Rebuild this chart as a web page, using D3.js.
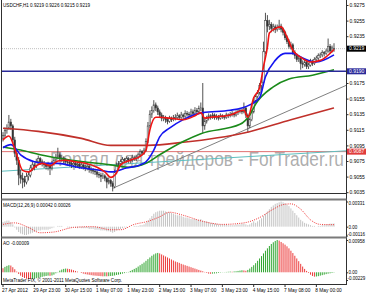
<!DOCTYPE html>
<html>
<head>
<meta charset="utf-8">
<script src="https://cdn.jsdelivr.net/npm/d3@7"></script>
<style>
  body { margin: 0; background: #fff; }
  svg text { font-family: "Liberation Sans", Arial, sans-serif; }
</style>
</head>
<body>
<div id="chart"></div>
<script>
// USDCHF H1 bars, prices in pips (x 0.0001)
const opens = [
  9104,9108,9114,9117,9125,9120,9102,9085,9076,9057, 9053,9051,9048,9055,9057,9066,9070,9068,9074,9078,
  9074,9072,9070,9068,9070,9066,9072,9076,9080,9083, 9079,9079,9076,9074,9073,9072,9070,9072,9070,9071,
  9068,9070,9067,9066,9068,9064,9063,9062,9061,9058, 9057,9055,9056,9053,9048,9050,9046,9042,9061,9070,
  9072,9074,9077,9076,9078,9076,9076,9079,9078,9080, 9083,9087,9085,9089,9100,9120,9135,9140,9147,9143,
  9138,9134,9130,9130,9128,9126,9130,9128,9130,9131, 9133,9131,9134,9132,9136,9135,9134,9138,9136,9140,
  9138,9142,9143,9120,9126,9130,9133,9132,9134,9131, 9132,9130,9133,9132,9131,9134,9133,9135,9136,9134,
  9137,9139,9140,9138,9143,9134,9120,9128,9138,9152, 9158,9162,9172,9176,9215,9255,9248,9250,9245,9247,
  9244,9246,9248,9244,9240,9233,9228,9222,9224,9214, 9210,9205,9207,9200,9199,9202,9196,9198,9203,9200,
  9205,9207,9210,9211,9214,9213,9216,9222,9216,9219
];
const highs = [
  9112,9118,9122,9134,9129,9122,9106,9090,9080,9064, 9060,9056,9060,9062,9070,9074,9073,9078,9082,9080,
  9077,9075,9073,9074,9072,9075,9079,9084,9092,9086, 9083,9081,9079,9077,9076,9075,9075,9074,9074,9073,
  9073,9072,9070,9071,9070,9067,9066,9065,9063,9061, 9060,9060,9058,9055,9054,9052,9049,9064,9073,9075,
  9077,9080,9079,9081,9080,9079,9083,9082,9083,9086, 9090,9089,9092,9104,9125,9140,9145,9153,9150,9146,
  9141,9137,9134,9133,9131,9133,9132,9134,9135,9137, 9135,9138,9136,9140,9139,9138,9142,9141,9144,9143,
  9146,9150,9175,9130,9133,9136,9135,9137,9136,9135, 9134,9136,9135,9134,9137,9136,9138,9139,9138,9140,
  9142,9143,9142,9150,9145,9136,9131,9141,9155,9161, 9166,9175,9181,9228,9265,9262,9256,9253,9251,9250,
  9250,9256,9251,9246,9242,9236,9231,9228,9226,9217, 9213,9210,9209,9204,9205,9204,9201,9206,9205,9208,
  9210,9213,9214,9217,9216,9219,9232,9225,9223,9226
];
const lows = [
  9100,9105,9110,9115,9115,9098,9080,9070,9044,9046, 9040,9042,9045,9050,9054,9062,9063,9066,9071,9070,
  9068,9066,9064,9063,9057,9063,9069,9073,9077,9075, 9074,9072,9070,9069,9068,9066,9067,9066,9067,9065,
  9065,9064,9062,9063,9060,9059,9058,9057,9054,9053, 9048,9052,9049,9040,9045,9042,9036,9040,9058,9066,
  9068,9071,9072,9073,9072,9072,9074,9075,9075,9077, 9080,9082,9083,9087,9098,9117,9130,9137,9139,9134,
  9130,9126,9126,9124,9122,9124,9125,9126,9127,9129, 9128,9129,9129,9130,9132,9131,9132,9133,9134,9135,
  9136,9139,9111,9115,9123,9127,9128,9129,9128,9128, 9127,9128,9129,9128,9129,9130,9131,9132,9131,9132,
  9134,9136,9135,9136,9130,9111,9117,9126,9136,9149, 9155,9160,9166,9174,9212,9240,9243,9240,9241,9239,
  9241,9243,9240,9236,9230,9225,9219,9218,9211,9206, 9202,9202,9192,9194,9196,9193,9193,9196,9197,9198,
  9202,9204,9207,9208,9209,9211,9214,9213,9214,9215
];
const closes = [
  9108,9114,9117,9125,9120,9102,9085,9076,9057,9053, 9051,9048,9055,9057,9066,9070,9068,9074,9078,9074,
  9072,9070,9068,9070,9066,9072,9076,9080,9083,9079, 9079,9076,9074,9073,9072,9070,9072,9070,9071,9068,
  9070,9067,9066,9068,9064,9063,9062,9061,9058,9057, 9055,9056,9053,9048,9050,9046,9042,9061,9070,9072,
  9074,9077,9076,9078,9076,9076,9079,9078,9080,9083, 9087,9085,9089,9100,9120,9135,9140,9147,9143,9138,
  9134,9130,9130,9128,9126,9130,9128,9130,9131,9133, 9131,9134,9132,9136,9135,9134,9138,9136,9140,9138,
  9142,9143,9120,9126,9130,9133,9132,9134,9131,9132, 9130,9133,9132,9131,9134,9133,9135,9136,9134,9137,
  9139,9140,9138,9143,9134,9120,9128,9138,9152,9158, 9162,9172,9176,9215,9255,9248,9250,9245,9247,9244,
  9246,9248,9244,9240,9233,9228,9222,9224,9214,9210, 9205,9207,9200,9199,9202,9196,9198,9203,9200,9205,
  9207,9210,9211,9214,9213,9216,9222,9216,9220,9219
];

const symbol = 'USDCHF,H1';
const timeLabels = ['27 Apr 2012', '29 Apr 23:00', '30 Apr 15:00', '1 May 07:00', '1 May 23:00', '2 May 15:00',
  '3 May 07:00', '3 May 23:00', '4 May 15:00', '7 May 08:00', '8 May 00:00'];
const timeLabelBars = [0, 16, 32, 48, 64, 80, 96, 112, 128, 144, 160];
const priceTicks = [9275, 9255, 9235, 9175, 9155, 9135, 9115, 9095, 9075, 9055, 9035];

// moving averages as [bar, pips]
const maFast = [[0,9102],[3,9107],[7,9083],[10,9063],[13,9061],[17,9069],[20,9072],[24,9069],[28,9075],
  [32,9076],[37,9074],[42,9072],[48,9067],[52,9061],[55,9054],[58,9060],[60,9070],[65,9076],[70,9081],
  [73,9089],[75,9115],[78,9131],[80,9131],[85,9130],[92,9128],[98,9133],[101,9137],[103,9130],[106,9131],
  [116,9134],[123,9140],[125,9131],[128,9156],[131,9169],[133,9196],[135,9221],[136,9239],[140,9246],
  [142,9247],[145,9234],[148,9217],[152,9208],[157,9202],[162,9204],[169,9218]];
const maMid = [[0,9092],[4,9096],[9,9083],[16,9074],[22,9072],[28,9072],[38,9067],[50,9063],[55,9061],
  [63,9066],[70,9070],[73,9074],[77,9089],[80,9106],[85,9117],[92,9128],[102,9137],[116,9140],[126,9147],
  [131,9156],[134,9183],[139,9204],[144,9213],[148,9213],[153,9207],[160,9202],[169,9211]];
const maSlow = [[0,9093],[9,9089],[19,9083],[35,9076],[55,9070],[64,9067],[73,9072],[80,9083],[92,9100],
  [101,9110],[121,9122],[126,9134],[129,9148],[138,9170],[146,9180],[158,9185],[169,9192]];
const maLong = [[0,9117],[18,9113],[40,9104],[55,9095],[74,9095],[92,9099],[123,9111],[147,9128],[169,9143]];

const levelBlue = 9190;
const levelRed = 9087;
const trendGray = [[56, 9040], [168, 9164]];
const trendCyan = [[0, 9062], [168, 9087]];

// MACD(12,26,9) in units of 0.0001
const macdMain = [
  6,7,8,8,6,3,-1,-4,-7,-9, -10,-11,-11,-10,-9,-8,-7,-6,-5,-5,
  -4,-4,-4,-4,-3,-2,-1,0,1,1, 1,0,0,-1,-1,-1,-1,-1,-2,-1,
  -2,-2,-2,-2,-3,-3,-3,-4,-4,-4, -5,-5,-5,-6,-6,-7,-8,-7,-5,-4,
  -3,-2,-1,-1,0,0,0,1,1,1, 2,2,3,5,8,11,14,17,19,20,
  21,21,21,20,19,19,18,17,16,15, 15,14,13,12,12,11,10,10,10,9,
  9,10,8,7,7,6,5,5,4,4, 3,3,3,3,3,2,2,2,2,3,
  3,3,4,4,3,2,3,5,7,5, 7,9,11,14,17,20,23,26,28,30,
  31,32,33,32,31,29,27,24,21,18, 15,12,9,7,5,4,3,2,1,1,
  0,1,1,2,2,3,3,4,4,4.2
];
const macdSignal = [[0,3],[6,5],[13,-1],[19,-8],[26,-7],[36,-1],[46,0],[55,-4],[60,-4],[67,3],[74,7],
  [80,13],[85,19],[92,15],[102,7],[112,3],[123,5],[131,12],[138,23],[143,29],[147,30],[152,23],[157,9],
  [162,3],[169,2.6]];
const macdTicks = [33.1, 0, -11.6];

// Awesome Oscillator in units of 0.00001
const aoValues = [
  120,160,190,210,200,150,90,20,-50,-100, -140,-170,-190,-200,-205,-200,-190,-175,-160,-150,
  -135,-120,-110,-100,-105,-95,-70,-30,10,50, 80,100,110,105,95,80,60,40,20,0,
  -20,-40,-55,-65,-75,-85,-95,-100,-105,-110, -115,-120,-118,-120,-115,-110,-105,-95,-80,-70,
  -55,-40,-25,-10,10,40,70,100,130,170, 210,250,290,340,390,440,490,530,560,575,
  560,530,500,470,440,410,380,350,320,300, 280,250,230,210,190,170,150,130,110,90,
  70,50,30,10,-20,-40,-45,-40,-35,-30, -20,-10,-5,5,10,15,20,15,25,30,
  40,50,60,55,45,70,110,160,210,270, 340,410,480,560,640,710,780,840,890,930,
  958,940,900,860,820,770,710,640,570,490, 410,330,250,170,100,40,-20,-70,-110,-130,
  -125,-115,-100,-85,-70,-55,-40,-30,-20,-9
];
const aoTicks = [958, 0, -229];

const W = 366, H = 293, left = 2, right = 346;
const svg = d3.select('#chart').append('svg')
  .attr('width', W).attr('height', H)
  .style('display', 'block').style('background', '#fff');

const x = d3.scaleLinear().domain([0, closes.length - 1]).range([3, 334]);
const y = d3.scaleLinear().domain([9035, 9275]).range([192.2, 5]);
const yMacd = d3.scaleLinear().domain([-11.6, 33.1]).range([235.5, 201.5]);
const yAo = d3.scaleLinear().domain([-229, 958]).range([280, 240]);

svg.append('clipPath').attr('id', 'mainClip')
  .append('rect').attr('x', left).attr('y', 0).attr('width', right - left).attr('height', 193);
const main = svg.append('g').attr('clip-path', 'url(#mainClip)');

// watermark
main.append('text')
  .attr('x', 50).attr('y', 166)
  .attr('font-size', 20)
  .attr('textLength', 294).attr('lengthAdjust', 'spacingAndGlyphs')
  .attr('fill', '#a0a0a0').attr('fill-opacity', 0.85)
  .text('Портал для трейдеров - ForTrader.ru');

// horizontal levels
main.append('line').attr('x1', left).attr('x2', right).attr('y1', y(levelRed)).attr('y2', y(levelRed))
  .attr('stroke', '#e07070').attr('stroke-width', 1);
main.append('line').attr('x1', left).attr('x2', right).attr('y1', y(closes[closes.length - 1])).attr('y2', y(closes[closes.length - 1]))
  .attr('stroke', '#b0b0b0').attr('stroke-width', 0.8).attr('stroke-dasharray', '1,1');

// trend lines, extended in pixel space
function extend(p, toLeft) {
  const x1 = x(p[0][0]), y1 = y(p[0][1]), x2 = x(p[1][0]), y2 = y(p[1][1]);
  const k = (y2 - y1) / (x2 - x1);
  const xa = toLeft ? left : x1;
  return [[xa, y1 + k * (xa - x1)], [right, y1 + k * (right - x1)]];
}
const cyanPts = extend(trendCyan, true);
main.append('line').attr('x1', cyanPts[0][0]).attr('y1', cyanPts[0][1]).attr('x2', cyanPts[1][0]).attr('y2', cyanPts[1][1])
  .attr('stroke', '#5fbfbf').attr('stroke-width', 1);
const grayPts = extend(trendGray, false);
main.append('line').attr('x1', grayPts[0][0]).attr('y1', grayPts[0][1]).attr('x2', grayPts[1][0]).attr('y2', grayPts[1][1])
  .attr('stroke', '#808080').attr('stroke-width', 1);

// candles
const bars = d3.range(closes.length).map(i => ({ i, o: opens[i], h: highs[i], l: lows[i], c: closes[i] }));
main.selectAll('line.wick').data(bars).join('line').attr('class', 'wick')
  .attr('x1', d => x(d.i)).attr('x2', d => x(d.i))
  .attr('y1', d => y(d.h)).attr('y2', d => y(d.l))
  .attr('stroke', '#404040').attr('stroke-width', 0.9);
main.selectAll('rect.body').data(bars).join('rect').attr('class', 'body')
  .attr('x', d => x(d.i) - 0.8).attr('width', 1.6)
  .attr('y', d => y(Math.max(d.o, d.c)))
  .attr('height', d => Math.max(0.6, Math.abs(y(d.o) - y(d.c))))
  .attr('fill', d => d.c >= d.o ? '#f4f4f4' : '#303030')
  .attr('stroke', '#404040').attr('stroke-width', 0.5);

// moving averages
const maLine = d3.line().x(d => x(d[0])).y(d => y(d[1])).curve(d3.curveMonotoneX);
[[maLong, '#c0302a'], [maSlow, '#1a8a1a'], [maMid, '#1515f0'], [maFast, '#f01414']].forEach(([data, color]) => {
  main.append('path').attr('d', maLine(data)).attr('fill', 'none')
    .attr('stroke', color).attr('stroke-width', 1.6);
});

main.append('line').attr('x1', left).attr('x2', right).attr('y1', y(levelBlue)).attr('y2', y(levelBlue))
  .attr('stroke', '#2a2a9a').attr('stroke-width', 1.4);

// header
svg.append('text').attr('x', 3).attr('y', 7).attr('font-size', 4.6).attr('fill', '#000')
  .text(`${symbol}  ${[opens, highs, lows, closes].map(a => (a[a.length - 1] / 10000).toFixed(4)).join(' ')}`);

// MACD panel
svg.selectAll('line.macd').data(macdMain).join('line').attr('class', 'macd')
  .attr('x1', (d, i) => x(i)).attr('x2', (d, i) => x(i))
  .attr('y1', yMacd(0)).attr('y2', d => yMacd(d))
  .attr('stroke', '#c4c4c4').attr('stroke-width', 1);
svg.append('path').attr('d', d3.line().x(d => x(d[0])).y(d => yMacd(d[1])).curve(d3.curveMonotoneX)(macdSignal))
  .attr('fill', 'none').attr('stroke', '#ee2020').attr('stroke-width', 0.9).attr('stroke-dasharray', '1,1.2');
svg.append('text').attr('x', 3).attr('y', 207).attr('font-size', 4.6)
  .text(`MACD(12,26,9) ${(macdMain[macdMain.length - 1] / 10000).toFixed(5)} ${(macdSignal[macdSignal.length - 1][1] / 10000).toFixed(5)}`);

// AO panel
svg.selectAll('line.ao').data(aoValues).join('line').attr('class', 'ao')
  .attr('x1', (d, i) => x(i)).attr('x2', (d, i) => x(i))
  .attr('y1', yAo(0)).attr('y2', d => yAo(d))
  .attr('stroke', (d, i) => i > 0 && d > aoValues[i - 1] ? '#2fa52f' : '#ec3a3a')
  .attr('stroke-width', 1);
svg.append('text').attr('x', 3).attr('y', 245).attr('font-size', 4.6)
  .text(`AO ${(aoValues[aoValues.length - 1] / 100000).toFixed(5)}`);
svg.append('text').attr('x', 3).attr('y', 282).attr('font-size', 4.6)
  .text('MetaTrader FIX, © 2001-2011 MetaQuotes Software Corp.');

// frames
const frame = svg.append('g').attr('stroke-width', 1);
frame.append('line').attr('x1', 1.5).attr('x2', 1.5).attr('y1', 0).attr('y2', 285).attr('stroke', '#303030');
frame.append('line').attr('x1', right + 0.5).attr('x2', right + 0.5).attr('y1', 0).attr('y2', 285).attr('stroke', '#303030');
frame.append('line').attr('x1', 1.5).attr('x2', right + 0.5).attr('y1', 193.5).attr('y2', 193.5).attr('stroke', '#303030');
frame.append('line').attr('x1', 1.5).attr('x2', right + 0.5).attr('y1', 199.5).attr('y2', 199.5).attr('stroke', '#7a7a7a').attr('stroke-width', 2);
frame.append('line').attr('x1', 1.5).attr('x2', right + 0.5).attr('y1', 237.5).attr('y2', 237.5).attr('stroke', '#7a7a7a').attr('stroke-width', 2);
frame.append('line').attr('x1', 1.5).attr('x2', right + 0.5).attr('y1', 284.5).attr('y2', 284.5).attr('stroke', '#303030');

// price axis
const pAxis = svg.append('g').attr('transform', `translate(${right + 0.5},0)`)
  .call(d3.axisRight(y).tickValues(priceTicks).tickSize(2).tickFormat(d => (d / 10000).toFixed(4)));
pAxis.select('.domain').remove();
pAxis.selectAll('line').attr('stroke', '#303030');
pAxis.selectAll('text').attr('font-size', 5).attr('x', 3).attr('fill', '#000');

// price tags
[[closes[closes.length - 1], '#000000'], [levelBlue, '#2a2a9a'], [levelRed, '#e03c3c']].forEach(([v, color]) => {
  svg.append('rect').attr('x', right + 1).attr('y', y(v) - 3).attr('width', 19).attr('height', 6).attr('fill', color);
  svg.append('text').attr('x', right + 3).attr('y', y(v) + 1.8).attr('font-size', 5).attr('fill', '#fff')
    .text((v / 10000).toFixed(4));
});

// sub panel axes
function subAxis(scale, ticks, fmt) {
  const g = svg.append('g').attr('transform', `translate(${right + 0.5},0)`)
    .call(d3.axisRight(scale).tickValues(ticks).tickSize(1.5).tickFormat(fmt));
  g.select('.domain').remove();
  g.selectAll('line').attr('stroke', '#303030');
  g.selectAll('text').attr('font-size', 4.5).attr('x', 2).attr('fill', '#000');
  g.selectAll('.tick').filter(d => d < 0).select('text').attr('x', 1).attr('dy', '-0.1em');
  g.selectAll('.tick').filter(d => d > 0).select('text').attr('dy', '0.6em');
}
subAxis(yMacd, macdTicks, d => d === 0 ? '0.00' : (d / 10000).toFixed(5));
subAxis(yAo, aoTicks, d => d === 0 ? '0.00' : (d / 100000).toFixed(5));

// time axis
const tAxis = svg.append('g').attr('transform', 'translate(0,284.5)');
tAxis.selectAll('line').data(timeLabelBars).join('line')
  .attr('x1', d => x(d)).attr('x2', d => x(d)).attr('y1', 0).attr('y2', 2.5).attr('stroke', '#303030');
tAxis.selectAll('text').data(timeLabelBars).join('text')
  .attr('x', d => x(d) - 1).attr('y', 7).attr('font-size', 4.8).attr('fill', '#000')
  .text((d, i) => timeLabels[i]);
</script>
</body>
</html>
